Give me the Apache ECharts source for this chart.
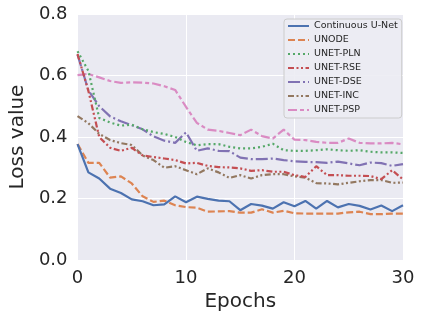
<!DOCTYPE html>
<html>
<head>
<meta charset="utf-8">
<script src="https://cdn.jsdelivr.net/npm/echarts@6/dist/echarts.min.js"></script>
<style>
  html, body { margin: 0; padding: 0; background: #fff; }
  #chart { width: 423px; height: 320px; }
</style>
</head>
<body>
<div id="chart"></div>
<script>
// epochs 0..30
var epochs = [];
for (var i = 0; i <= 30; i++) epochs.push(i);

var continuousUNet = [0.377, 0.285, 0.265, 0.232, 0.218, 0.197, 0.191, 0.178, 0.181, 0.207, 0.188, 0.206, 0.199, 0.193, 0.191, 0.162, 0.182, 0.177, 0.167, 0.188, 0.175, 0.192, 0.167, 0.192, 0.171, 0.182, 0.176, 0.164, 0.177, 0.159, 0.178];
var unode = [0.377, 0.316, 0.316, 0.268, 0.272, 0.249, 0.207, 0.189, 0.193, 0.178, 0.172, 0.170, 0.157, 0.158, 0.159, 0.154, 0.154, 0.165, 0.154, 0.160, 0.152, 0.151, 0.151, 0.151, 0.151, 0.155, 0.157, 0.149, 0.149, 0.151, 0.151];
var unetPLN = [0.679, 0.615, 0.462, 0.447, 0.437, 0.440, 0.425, 0.416, 0.410, 0.400, 0.384, 0.373, 0.377, 0.377, 0.368, 0.363, 0.363, 0.368, 0.378, 0.357, 0.355, 0.355, 0.357, 0.360, 0.357, 0.355, 0.357, 0.352, 0.350, 0.350, 0.348];
var unetRSE = [0.670, 0.550, 0.400, 0.365, 0.355, 0.365, 0.340, 0.335, 0.330, 0.325, 0.314, 0.316, 0.306, 0.302, 0.301, 0.298, 0.290, 0.292, 0.287, 0.287, 0.276, 0.270, 0.305, 0.276, 0.276, 0.274, 0.274, 0.273, 0.263, 0.292, 0.262];
var unetDSE = [0.668, 0.552, 0.500, 0.467, 0.451, 0.438, 0.425, 0.402, 0.388, 0.381, 0.415, 0.355, 0.363, 0.355, 0.354, 0.333, 0.328, 0.328, 0.330, 0.325, 0.321, 0.319, 0.318, 0.316, 0.320, 0.314, 0.308, 0.317, 0.315, 0.306, 0.312];
var unetINC = [0.468, 0.445, 0.410, 0.390, 0.380, 0.374, 0.340, 0.325, 0.300, 0.305, 0.292, 0.279, 0.298, 0.285, 0.267, 0.276, 0.265, 0.276, 0.279, 0.279, 0.272, 0.268, 0.250, 0.249, 0.246, 0.251, 0.256, 0.260, 0.260, 0.251, 0.252];
var unetPSP = [0.601, 0.605, 0.594, 0.582, 0.576, 0.578, 0.577, 0.574, 0.565, 0.553, 0.498, 0.446, 0.424, 0.420, 0.413, 0.406, 0.424, 0.403, 0.395, 0.424, 0.391, 0.390, 0.384, 0.381, 0.381, 0.395, 0.381, 0.379, 0.379, 0.381, 0.376];

var names = ["Continuous U-Net", "UNODE", "UNET-PLN", "UNET-RSE", "UNET-DSE", "UNET-INC", "UNET-PSP"];
var values = [continuousUNet, unode, unetPLN, unetRSE, unetDSE, unetINC, unetPSP];
var colors = ["#4C72B0", "#DD8452", "#55A868", "#C44E52", "#8172B3", "#937860", "#DA8BC3"];
var dashes = [
  "solid",
  [7, 3],
  [2, 3],
  [6, 2.5, 2, 2.5, 2, 2.5],
  [12, 3, 2, 3],
  [6, 2.5, 2, 2.5, 2, 2.5],
  [9, 3, 4, 3]
];

var font = "DejaVu Sans";
var chart = echarts.init(document.getElementById("chart"));

var series = names.map(function (n, k) {
  return {
    name: n,
    type: "line",
    symbol: "none",
    showSymbol: false,
    data: epochs.map(function (e, j) { return [e, values[k][j]]; }),
    lineStyle: { color: colors[k], width: 2.2, type: dashes[k] },
    itemStyle: { color: colors[k] },
    z: 10 - k
  };
});

var option = {
  animation: false,
  textStyle: { fontFamily: font },
  grid: {
    left: 75, right: 20, top: 14, bottom: 60,
    show: true, backgroundColor: "#EAEAF2", borderWidth: 0
  },
  legend: {
    orient: "vertical",
    left: 284,
    top: 19,
    itemWidth: 21,
    itemHeight: 10,
    itemGap: 4,
    padding: [2, 4, 3, 3],
    backgroundColor: "rgba(236,236,243,0.9)",
    borderColor: "#cccccc",
    borderWidth: 1,
    borderRadius: 3,
    itemStyle: { opacity: 0 },
    lineStyle: { width: 2 },
    textStyle: { fontFamily: font, fontSize: 9.5, color: "#262626" },
    data: names
  },
  xAxis: {
    type: "value",
    min: 0, max: 30, interval: 10,
    name: "Epochs",
    nameLocation: "middle",
    nameGap: 29,
    nameTextStyle: { fontFamily: font, fontSize: 20, color: "#262626" },
    axisLine: { show: false },
    axisTick: { show: false },
    axisLabel: { fontFamily: font, fontSize: 18, color: "#262626", margin: 9 },
    splitLine: { show: true, lineStyle: { color: "#ffffff", width: 1 } }
  },
  yAxis: {
    type: "value",
    min: 0, max: 0.8, interval: 0.2,
    name: "Loss value",
    nameLocation: "middle",
    nameGap: 41,
    nameTextStyle: { fontFamily: font, fontSize: 20, color: "#262626" },
    axisLine: { show: false },
    axisTick: { show: false },
    axisLabel: {
      fontFamily: font, fontSize: 18, color: "#262626", margin: 10,
      formatter: function (v) { return v.toFixed(1); }
    },
    splitLine: { show: true, lineStyle: { color: "#ffffff", width: 1 } }
  },
  series: series
};

chart.setOption(option);
</script>
</body>
</html>
